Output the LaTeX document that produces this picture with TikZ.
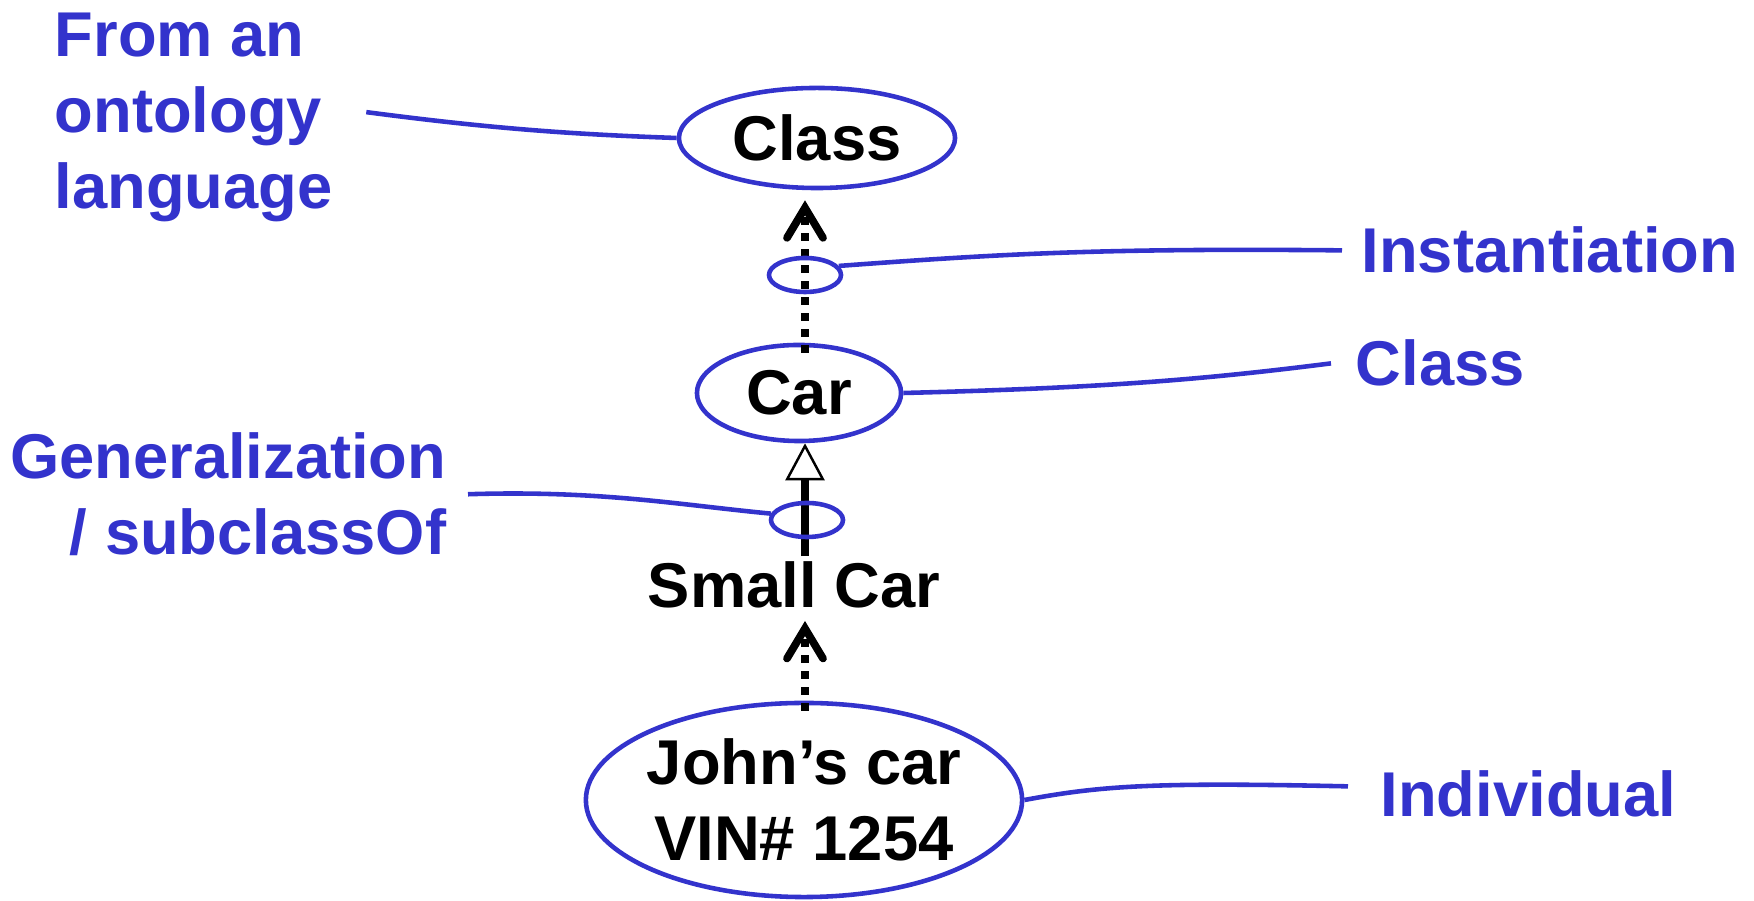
\documentclass[tikz,border=0pt]{standalone}
\usepackage{fontspec}
\setmainfont{Liberation Sans}
\usetikzlibrary{shapes.geometric,arrows.meta}
\definecolor{ontoblue}{RGB}{51,51,204}

\begin{document}
\begin{tikzpicture}[x=0.01cm, y=-0.01cm,
    every node/.style={font=\fontsize{18}{21.6}\selectfont\bfseries, inner sep=0pt},
    oval/.style={ellipse, draw=ontoblue, line width=1.3pt},
    ring/.style={ellipse, draw=ontoblue, line width=1.3pt, minimum width=0.72cm, minimum height=0.34cm},
    note/.style={text=ontoblue},
    lead/.style={ontoblue, line width=1.3pt},
    inst/.style={line width=2.2pt, dash pattern=on 0.08cm off 0.08cm,
      -{Straight Barb[length=0.3cm,width=0.36cm,line cap=round]}},
    gen/.style={line width=2pt, -{Triangle[fill=white,length=0.37cm,width=0.39cm,line width=0.7pt]}}]
  \useasboundingbox (0,0) rectangle (1754,901);
  \coordinate (axis) at (805,0);
  \node[oval, minimum width=2.76cm, minimum height=1cm] (class) at (817,138) {Class};
  \node[oval, minimum width=2.04cm, minimum height=0.96cm] (car) at (799,393) {Car};
  \node (small) at (794,585) {Small Car};
  \node[oval, align=center, inner xsep=-0.1cm, minimum width=4.36cm, minimum height=1.94cm] (john) at (804,800) {John’s car\\VIN\# 1254};

  \draw[inst] ([yshift=-0.1cm]car.north -| axis) -- ([yshift=-0.1cm]class.south -| axis);
  \draw[gen] ([yshift=0.05cm]small.north -| axis) -- (car.south -| axis);
  \draw[inst] ([yshift=-0.1cm]john.north -| axis) -- ([yshift=-0.12cm]small.south -| axis);
  \node[ring] (ringinst) at (805,275) {};
  \node[ring] (ringgen) at (807,520) {};

  \node[note, align=left, anchor=north west] (onto) at (54,12) {From an\\ontology\\language};
  \node[note, align=right, anchor=north east] (genlbl) at (447,432) {Generalization\\/ subclassOf};
  \node[note, anchor=base west] (instlbl) at (1361,273) {Instantiation};
  \node[note, anchor=base west] (classlbl) at (1355,386) {Class};
  \node[note, anchor=base west] (indiv) at (1380,817) {Individual};

  \coordinate (ontoend) at ([shift={(0.33cm,0.05cm)}]onto.east);
  \coordinate (genend) at ([xshift=0.21cm]genlbl.east);
  \coordinate (instend) at ([xshift=-0.19cm]instlbl.west);
  \coordinate (classend) at ([xshift=-0.24cm]classlbl.west);
  \coordinate (indivend) at ([shift={(-0.32cm,0.08cm)}]indiv.west);

  \draw[lead] (ontoend) .. controls (480,127) and (560,134) .. (class.west);
  \draw[lead] (ringinst.15) .. controls (1000,254) and (1100,248) .. (instend);
  \draw[lead] (car.east) .. controls (1100,388) and (1200,380) .. (classend);
  \draw[lead] (genend) .. controls (600,490) and (680,505) .. (ringgen.170);
  \draw[lead] (john.east) .. controls (1100,786) and (1150,782) .. (indivend);
\end{tikzpicture}
\end{document}
